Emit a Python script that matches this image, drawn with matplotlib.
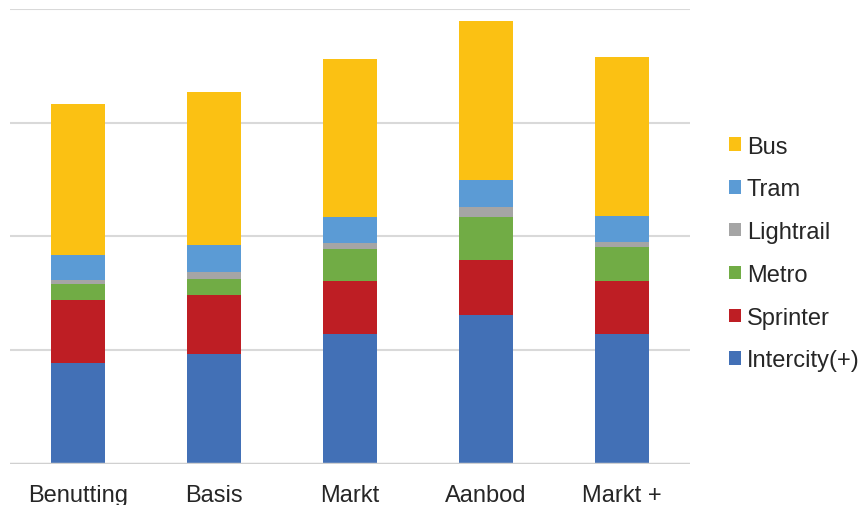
import matplotlib.pyplot as plt
import numpy as np

categories = ["Benutting", "Basis", "Markt", "Aanbod", "Markt +"]
series = ["Intercity(+)", "Sprinter", "Metro", "Lightrail", "Tram", "Bus"]
intercity = [88.6, 96.8, 114.0, 131.2, 114.0]
sprinter = [55.8, 51.8, 47.0, 48.0, 47.0]
metro = [13.5, 13.8, 28.4, 38.0, 29.8]
lightrail = [3.8, 6.1, 4.6, 9.1, 4.7]
tram = [21.7, 24.0, 23.1, 23.3, 22.5]
bus = [132.7, 134.2, 138.9, 139.5, 139.2]
colors = ["#4270B6", "#BE1E24", "#71AC45", "#A5A5A5", "#5B9BD5", "#FBC113"]

plt.rcParams['font.family'] = ['Liberation Sans', 'DejaVu Sans']

fig = plt.figure(figsize=(8.63, 5.06), dpi=100)
ax = fig.add_axes([0.0116, 0.0805, 0.788, 0.9003])

x = np.arange(len(categories))
bottom = np.zeros(len(categories))
handles = []
for name, vals, c in zip(series, [intercity, sprinter, metro, lightrail, tram, bus], colors):
    h = ax.bar(x, vals, width=0.4, bottom=bottom, color=c, label=name, zorder=3)
    handles.append(h)
    bottom += np.array(vals)

ax.set_xlim(-0.5, 4.5)
ax.set_ylim(0, 400)
ax.set_yticks([100, 200, 300, 400])
ax.yaxis.grid(True, color="#d9d9d9", linewidth=1.5, zorder=0)
ax.axhline(0, color="#d0d0d0", linewidth=2.5, zorder=4)
ax.tick_params(axis='y', left=False, labelleft=False)
ax.tick_params(axis='x', length=0, labelsize=17, labelcolor="#262626", pad=14)
ax.set_xticks(x)
ax.set_xticklabels(categories)
for s in ax.spines.values():
    s.set_visible(False)

fig.legend(handles[::-1], series[::-1], loc='center left', bbox_to_anchor=(0.845, 0.497),
           frameon=False, fontsize=17, labelcolor="#262626", handlelength=0.5,
           handleheight=0.5, handletextpad=0.25, labelspacing=0.88,
           borderpad=0, borderaxespad=0)

fig.savefig("out.png", dpi=100)
